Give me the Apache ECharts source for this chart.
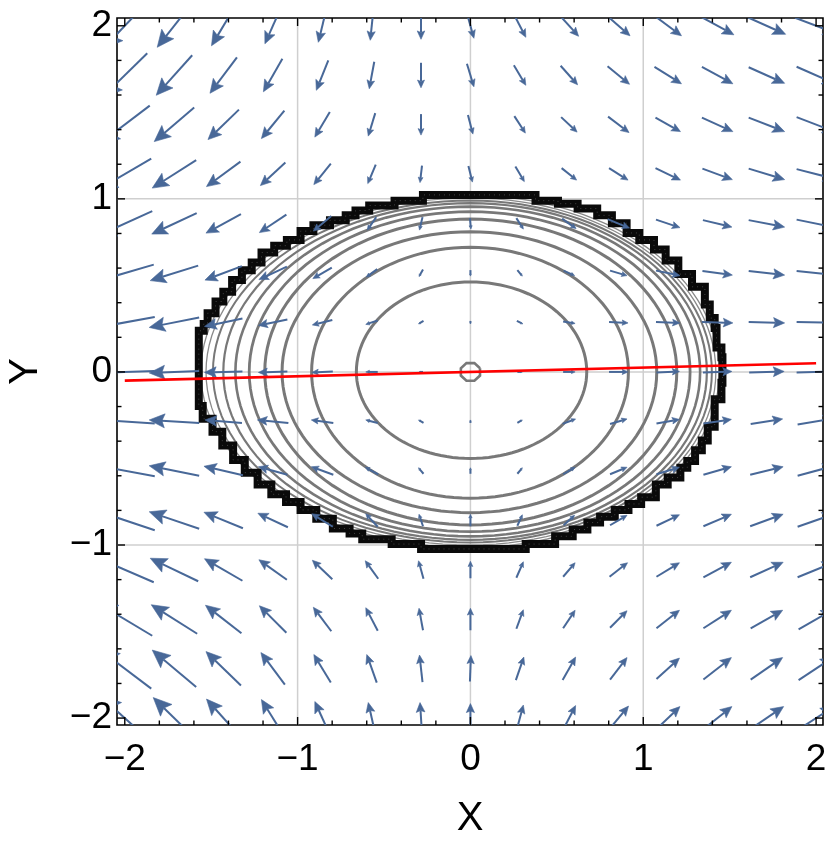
<!DOCTYPE html>
<html><head><meta charset="utf-8">
<script src="https://cdn.jsdelivr.net/npm/echarts@6/dist/echarts.min.js"></script>
<style>html,body{margin:0;padding:0;background:#fff}#c{width:830px;height:847px}</style>
</head><body><div id="c"></div>
<script>
// ---- grid of arrow positions ----
const xs = [-2, -1.714, -1.429, -1.143, -0.857, -0.571, -0.286, 0, 0.286, 0.571, 0.857, 1.143, 1.429, 1.714, 2];
const ys = [2, 1.714, 1.429, 1.143, 0.857, 0.571, 0.286, 0, -0.286, -0.571, -0.857, -1.143, -1.429, -1.714, -2];
// ---- vector components (rows follow ys, columns follow xs), arbitrary units as read ----
const U = [
[-44,-34,-24,-16,-8,-3,0,7,12,19,23,27,33,38,42],
[-45,-36,-27,-19,-12,-5,0,7,12,17,22,27,31,36,39],
[-50,-40,-31,-23,-15,-7,0,5,11,16,21,25,31,36,39],
[-53,-44,-34,-25,-17,-8,-2,4,9,15,19,25,30,36,39],
[-55,-45,-35,-27,-18,-9,-3,1,7,14,22,24,29,36,39],
[-58,-48,-37,-28,-19,-11,-4,0,5,11,17,24,30,36,39],
[-60,-50,-38,-29,-20,-12,-5,0,6,12,19,24,31,36,39],
[-60,-50,-38,-29,-21,-12,-4,0,5,12,19,23,29,35,39],
[-60,-50,-37,-31,-22,-12,-5,0,5,13,17,23,28,32,37],
[-60,-50,-39,-29,-22,-13,-5,0,5,12,17,23,28,33,37],
[-60,-50,-39,-30,-21,-12,-4,0,5,11,17,23,28,33,37],
[-58,-48,-38,-28,-20,-13,-5,0,7,12,18,23,28,33,37],
[-55,-46,-36,-27,-18,-12,-4,0,7,12,17,23,28,32,35],
[-53,-44,-35,-24,-17,-10,-3,1,8,13,17,23,28,32,35],
[-50,-42,-34,-23,-15,-7,-2,0,7,13,20,24,29,34,37]
];
const V = [
[-46,-43,-40,-36,-33,-29,-27,-25,-23,-21,-20,-20,-18,-17,-16],
[-44,-40,-36,-33,-30,-27,-25,-23,-20,-19,-18,-17,-17,-16,-17],
[-38,-34,-30,-28,-25,-23,-21,-19,-17,-15,-16,-14,-14,-14,-15],
[-31,-28,-25,-23,-21,-19,-17,-16,-15,-12,-12,-12,-11,-11,-10],
[-25,-21,-19,-18,-15,-13,-13,-11,-11,-10,-9,-8,-7,-7,-8],
[-17,-15,-14,-13,-11,-8,-7,-6,-6,-5,-5,-5,-4,-4,-4],
[-11,-10,-8,-6,-5,-4,-3,-3,-3,-2,-1,-1,-1,-1,-1],
[-2,-2,-1,-1,-1,0,0,0,0,0,0,1,1,1,1],
[4,3,3,3,3,3,3,3,3,5,5,4,4,5,6],
[11,10,9,8,8,7,6,6,6,7,7,7,8,8,10],
[20,17,16,14,13,13,12,12,11,10,10,11,12,12,13],
[25,23,22,20,19,18,18,17,16,14,14,14,15,15,15],
[33,29,28,27,24,23,22,22,19,18,17,18,18,18,20],
[40,37,34,32,28,28,27,26,23,23,22,21,22,22,23],
[45,41,38,37,33,31,31,29,26,25,24,23,23,23,24]
];
// ---- contour levels: semi-axes toward left / right / top / bottom ----
const contourLeft   = [0.06, 0.66, 0.919, 1.09, 1.19, 1.28, 1.36, 1.43, 1.49, 1.53, 1.56];
const contourRight  = [0.06, 0.673, 0.914, 1.078, 1.194, 1.271, 1.329, 1.368, 1.397, 1.42, 1.44];
const contourTop    = [0.055, 0.52, 0.72, 0.81, 0.883, 0.926, 0.955, 0.975, 0.99, 1.005, 1.02];
const contourBottom = [0.055, 0.50, 0.73, 0.813, 0.884, 0.923, 0.95, 0.97, 0.985, 1.0, 1.015];
// ---- outer (black) boundary of the contour region ----
const boundaryX = [1.491,1.485,1.445,1.445,1.404,1.369,1.329,1.283,1.242,1.167,1.097,1.010,0.935,0.854,0.767,0.692,0.605,0.501,0.327,0.287,-0.252,-0.292,-0.466,-0.640,-0.715,-0.814,-0.912,-1.005,-1.091,-1.178,-1.259,-1.335,-1.404,-1.468,-1.526,-1.584,-1.607,-1.607,-1.578,-1.555,-1.508,-1.462,-1.410,-1.352,-1.294,-1.236,-1.161,-1.086,-1.005,-0.929,-0.831,-0.738,-0.680,-0.599,-0.449,-0.281,-0.281,0.327,0.385,0.518,0.634,0.750,0.837,0.924,0.999,1.086,1.155,1.230,1.311,1.387,1.416,1.445,1.456,1.485];
const boundaryY = [0,-0.064,-0.162,-0.237,-0.324,-0.405,-0.462,-0.526,-0.566,-0.624,-0.665,-0.740,-0.780,-0.815,-0.855,-0.890,-0.931,-0.971,-1.017,-1.046,-1.046,-1.017,-0.988,-0.954,-0.925,-0.867,-0.815,-0.769,-0.723,-0.665,-0.595,-0.520,-0.434,-0.353,-0.277,-0.202,-0.104,0.168,0.243,0.283,0.347,0.416,0.474,0.543,0.601,0.647,0.705,0.746,0.780,0.832,0.867,0.896,0.925,0.954,0.983,1.012,1.046,1.046,1.012,0.994,0.965,0.925,0.879,0.821,0.780,0.723,0.659,0.578,0.503,0.399,0.318,0.260,0.145,0.087];
// ---- red line ----
const fitLineX = [-2, 2];
const fitLineY = [-0.05, 0.05];
// ---- ticks / grid ----
const majorTicks = [-2, -1, 0, 1, 2];
const minorTicks = [-1.8,-1.6,-1.4,-1.2,-0.8,-0.6,-0.4,-0.2,0.2,0.4,0.6,0.8,1.2,1.4,1.6,1.8];
const gridValues = [-1, 0, 1];

// ---- styles / layout ----
const X_MIN = -2.045, X_MAX = 2.04, Y_MIN = -2.04, Y_MAX = 2.045;
const ARROW_SCALE = 1 / 173;
const ARROW_COLOR = '#486898';
const contourWidth = [2.6, 3, 3, 3, 3, 2.8, 2.6, 2.2, 2, 1.3, 1.3];
const FONT = 'Liberation Sans, Arial, Helvetica, sans-serif';

const arrowData = [];
ys.forEach((y, r) => xs.forEach((x, c) => arrowData.push([x, y, U[r][c], V[r][c]])));
const contourData = contourLeft.map((v, i) => [contourLeft[i], contourRight[i], contourTop[i], contourBottom[i]]);
const boundaryPts = boundaryX.map((x, i) => [x, boundaryY[i]]);
const tickData = [];
majorTicks.forEach(v => { tickData.push([v, 0, 0]); tickData.push([v, 0, 1]); });
minorTicks.forEach(v => { tickData.push([v, 1, 0]); tickData.push([v, 1, 1]); });

function fmt(v) {
  if (Math.abs(v - Math.round(v)) > 1e-6 || Math.abs(v) > 2.001) return '';
  const r = Math.round(v);
  return r < 0 ? '\u2212' + Math.abs(r) : String(r);
}

const chart = echarts.init(document.getElementById('c'), null, { renderer: 'canvas' });
chart.setOption({
  animation: false,
  backgroundColor: '#fff',
  grid: { left: 117, right: 7, top: 18, bottom: 122, show: true, borderColor: '#000', borderWidth: 1.6, outerBoundsMode: 'none', containLabel: false },
  xAxis: {
    type: 'value', min: X_MIN, max: X_MAX,
    axisLine: { show: false }, axisTick: { show: false }, splitLine: { show: false },
    axisLabel: { interval: 0, formatter: fmt, fontSize: 37, fontFamily: FONT, color: '#000', margin: 16, showMinLabel: true, showMaxLabel: true },
    name: 'X', nameLocation: 'middle', nameGap: 74, nameTextStyle: { fontSize: 40, fontFamily: FONT, color: '#000' }
  },
  yAxis: {
    type: 'value', min: Y_MIN, max: Y_MAX,
    axisLine: { show: false }, axisTick: { show: false }, splitLine: { show: false },
    axisLabel: { interval: 0, formatter: fmt, fontSize: 37, fontFamily: FONT, color: '#000', margin: 5, showMinLabel: true, showMaxLabel: true },
    name: 'Y', nameLocation: 'middle', nameGap: 71, nameTextStyle: { fontSize: 40, fontFamily: FONT, color: '#000' }
  },
  series: [
    { // grid lines
      type: 'custom', coordinateSystem: 'cartesian2d', silent: true, z: 1,
      data: gridValues.map(v => [v, v]),
      renderItem: (params, api) => {
        const v = api.value(0);
        const a = api.coord([v, Y_MIN]), b = api.coord([v, Y_MAX]);
        const c = api.coord([X_MIN, v]), d = api.coord([X_MAX, v]);
        const st = { stroke: '#cfcfcf', lineWidth: 1.5 };
        return { type: 'group', children: [
          { type: 'line', shape: { x1: a[0], y1: a[1], x2: b[0], y2: b[1] }, style: st },
          { type: 'line', shape: { x1: c[0], y1: c[1], x2: d[0], y2: d[1] }, style: st }
        ] };
      }
    },
    { // contour lines
      type: 'custom', coordinateSystem: 'cartesian2d', silent: true, z: 2, clip: true,
      data: contourData,
      renderItem: (params, api) => {
        const i = params.dataIndex;
        const aL = api.value(0), aR = api.value(1), bT = api.value(2), bB = api.value(3);
        const n = i === 0 ? 8 : 120, off = i === 0 ? Math.PI / 8 : 0;
        const pts = [];
        for (let k = 0; k <= n; k++) {
          const th = off + 2 * Math.PI * k / n, c = Math.cos(th), s = Math.sin(th);
          pts.push(api.coord([c * (c >= 0 ? aR : aL), s * (s >= 0 ? bT : bB)]));
        }
        return { type: 'polyline', shape: { points: pts }, style: { stroke: i >= 9 ? '#8a8a8a' : '#787878', lineWidth: contourWidth[i], fill: null } };
      }
    },
    { // black jagged boundary
      type: 'custom', coordinateSystem: 'cartesian2d', silent: true, z: 3, clip: true,
      data: [[0, 0]],
      renderItem: (params, api) => {
        const shrink = 0.978;
        const P = boundaryPts.map(p => [p[0] * shrink, p[1] * shrink]);
        const out = [];
        for (let i = 0; i < P.length; i++) {
          const p = P[i], q = P[(i + 1) % P.length];
          out.push(api.coord(p));
          const c1 = [q[0], p[1]], c2 = [p[0], q[1]];
          const r1 = (c1[0] / 1.55) ** 2 + (c1[1] / 1.05) ** 2, r2 = (c2[0] / 1.55) ** 2 + (c2[1] / 1.05) ** 2;
          out.push(api.coord(r1 > r2 ? c1 : c2));
        }
        out.push(out[0]);
        return { type: 'group', children: [
          { type: 'polyline', shape: { points: out }, style: { stroke: '#0a0a0a', lineWidth: 8, fill: null, lineJoin: 'miter' } },
          { type: 'polyline', shape: { points: out }, style: { stroke: '#444', lineWidth: 1, fill: null, lineDash: [1, 4] } }
        ] };
      }
    },
    { // vector field arrows
      type: 'custom', coordinateSystem: 'cartesian2d', silent: true, z: 4, clip: true,
      data: arrowData,
      renderItem: (params, api) => {
        const x = api.value(0), y = api.value(1);
        const u = api.value(2) * ARROW_SCALE, v = api.value(3) * ARROW_SCALE;
        if (u === 0 && v === 0) return null;
        const t = api.coord([x - u / 2, y - v / 2]), h = api.coord([x + u / 2, y + v / 2]);
        const dx = h[0] - t[0], dy = h[1] - t[1], L = Math.hypot(dx, dy);
        const ux = dx / L, uy = dy / L, hl = 0.31 * L, hw = 0.14 * L;
        const bx = h[0] - ux * hl, by = h[1] - uy * hl;
        const nx = bx + ux * hl * 0.18, ny = by + uy * hl * 0.18;
        return { type: 'group', children: [
          { type: 'line', shape: { x1: t[0], y1: t[1], x2: nx, y2: ny }, style: { stroke: ARROW_COLOR, lineWidth: 2 } },
          { type: 'polygon', shape: { points: [[h[0], h[1]], [bx - uy * hw, by + ux * hw], [nx, ny], [bx + uy * hw, by - ux * hw]] }, style: { fill: ARROW_COLOR, stroke: ARROW_COLOR, lineWidth: 0.6, lineJoin: 'round' } }
        ] };
      }
    },
    { // red line
      type: 'line', silent: true, z: 5, showSymbol: false, symbol: 'none',
      data: fitLineX.map((x, i) => [x, fitLineY[i]]),
      lineStyle: { color: '#ff0000', width: 2.6 }
    },
    { // frame ticks on all four sides
      type: 'custom', coordinateSystem: 'cartesian2d', silent: true, z: 6,
      data: tickData,
      renderItem: (params, api) => {
        const v = api.value(0), minor = api.value(1) === 1, axis = api.value(2);
        const len = minor ? 4.5 : 8;
        const st = { stroke: '#000', lineWidth: 1.4 };
        if (axis === 0) {
          const b = api.coord([v, Y_MIN]), t = api.coord([v, Y_MAX]);
          return { type: 'group', children: [
            { type: 'line', shape: { x1: b[0], y1: b[1], x2: b[0], y2: b[1] - len }, style: st },
            { type: 'line', shape: { x1: t[0], y1: t[1], x2: t[0], y2: t[1] + len }, style: st }
          ] };
        }
        const l = api.coord([X_MIN, v]), r = api.coord([X_MAX, v]);
        return { type: 'group', children: [
          { type: 'line', shape: { x1: l[0], y1: l[1], x2: l[0] + len, y2: l[1] }, style: st },
          { type: 'line', shape: { x1: r[0], y1: r[1], x2: r[0] - len, y2: r[1] }, style: st }
        ] };
      }
    }
  ]
});
</script>
</body></html>
